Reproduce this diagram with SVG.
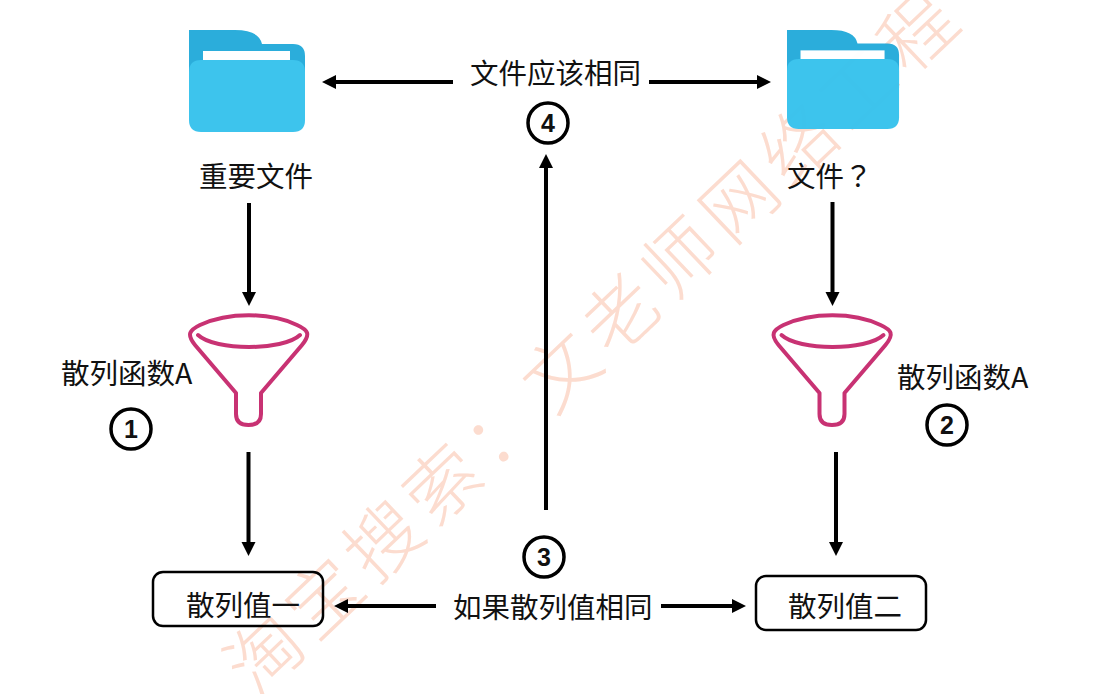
<svg xmlns="http://www.w3.org/2000/svg" xmlns:xlink="http://www.w3.org/1999/xlink" width="1097" height="694" viewBox="0 0 1097 694">
<style>
.t{font-family:"Noto Sans CJK SC","Noto Sans",sans-serif;font-size:28.5px;fill:#111}
.n{font-family:"Liberation Sans",Arial,sans-serif;font-size:25px;font-weight:700;fill:#111;text-anchor:middle}
.c{fill:none;stroke:#000;stroke-width:3.5}
.box{fill:none;stroke:#000;stroke-width:2.500}
.a{stroke:#000;stroke-width:4;fill:none;marker-end:url(#h)}
.f{fill:none;stroke:#c83273;stroke-width:4;stroke-linecap:round;stroke-linejoin:round}
.wm{font-family:"Noto Sans CJK SC",sans-serif;font-size:74px;font-weight:200;letter-spacing:8px;fill:#fcdccf}
</style>
<defs>
<marker id="h" markerUnits="userSpaceOnUse" markerWidth="16" markerHeight="16" refX="3" refY="8" orient="auto"><path d="M0,1L14,8L0,15z" fill="#000"/></marker>
<g id="folderA" opacity=".98"><path d="M0,0H46Q70,0 73,14H104Q116,14 116,26V60H0Z" fill="#27acdb"/><rect x="14" y="21" width="87" height="12" fill="#fff"/><path d="M12,30H104Q116,30 116,42V90Q116,102 104,102H12Q0,102 0,90V42Q0,30 12,30Z" fill="#3ac3ed"/></g>
<g id="funnel"><path class="f" d="M236,393L195,345C186,334 190,330 200,325C228,312 270,312 297,325C308,330 311,334 302,345L261,393V414Q261,425 248.500,425Q236,425 236,414Z"/><path class="f" d="M198,335C215,351 283,351 300,335"/></g>
</defs>
<rect width="1097" height="694" fill="#fff"/>
<text class="wm" transform="translate(256,699) rotate(-43.600)">淘宝搜索：文老师网络工程</text>
<g id="node-file1"><use xlink:href="#folderA" x="189" y="30"/><text class="t" x="199" y="187">重要文件</text></g>
<g id="node-file2"><use xlink:href="#folderA" transform="translate(787,30) scale(.966,.97)"/><text class="t" x="787" y="187">文件<tspan style="font-family:'Noto Sans CJK TC',sans-serif">？</tspan></text></g>
<g id="node-hash1"><use xlink:href="#funnel"/><text class="t" x="61" y="384">散列函数A</text><circle class="c" cx="131" cy="429" r="20"/><text class="n" x="131" y="438">1</text></g>
<g id="node-hash2"><use xlink:href="#funnel" x="583.500"/><text class="t" x="897" y="388">散列函数A</text><circle class="c" cx="947" cy="425" r="20"/><text class="n" x="947" y="434">2</text></g>
<g id="node-value1"><rect class="box" x="153" y="572" width="170" height="54" rx="10"/><text class="t" x="186" y="616">散列值一</text></g>
<g id="node-value2"><rect class="box" x="756" y="576" width="170" height="54" rx="10"/><text class="t" x="788" y="617">散列值二</text></g>
<g id="node-same"><text class="t" x="453" y="618">如果散列值相同</text><circle class="c" cx="544" cy="557" r="20"/><text class="n" x="544" y="566">3</text></g>
<g id="node-equal"><text class="t" x="470" y="84">文件应该相同</text><circle class="c" cx="548" cy="123" r="20"/><text class="n" x="548" y="132">4</text></g>
<g id="connectors">
<path class="a" d="M249,203V295"/>
<path class="a" d="M248.500,452V545"/>
<path class="a" d="M832.500,202V295"/>
<path class="a" d="M836,452V545"/>
<path class="a" d="M453,82H333"/>
<path class="a" d="M649,82H760"/>
<path class="a" d="M546,510V165"/>
<path class="a" d="M436,606H345"/>
<path class="a" d="M661,606H735"/>
</g>
</svg>
